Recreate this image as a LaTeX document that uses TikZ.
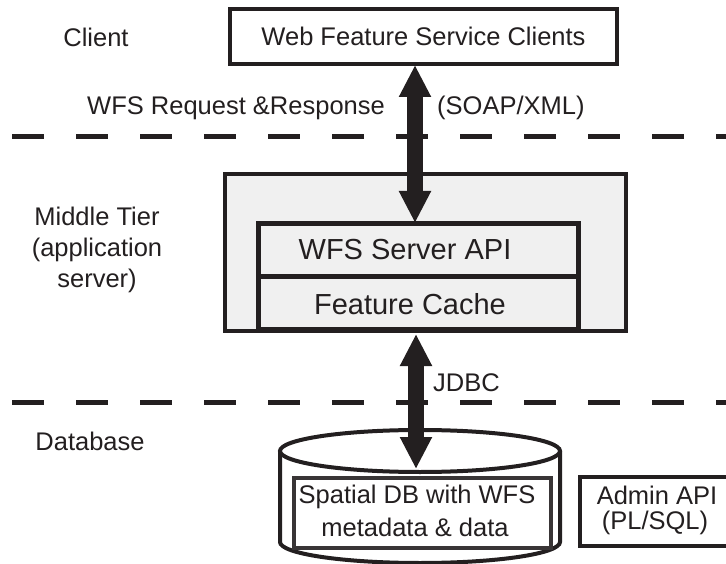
\documentclass[tikz,border=0pt]{standalone}
\usepackage{fontspec}
\setmainfont{Liberation Sans}
\usetikzlibrary{arrows.meta}
\definecolor{ink}{HTML}{231F20}
\definecolor{panel}{HTML}{F0F0F0}
\begin{document}
\begin{tikzpicture}[x=1pt,y=-1pt,
  lbl/.style={font=\fontsize{25.5}{31}\selectfont, text=ink, inner sep=0pt},
  apitext/.style={font=\fontsize{29}{34}\selectfont, text=ink, inner sep=0pt},
  frame/.style={draw=ink, line width=4pt},
  divider/.style={draw=ink, line width=5pt, dash pattern=on 32pt off 32pt},
  bigarrow/.style={draw=ink, fill=ink, line width=16pt,
    {Triangle[width=30pt,length=32pt]}-{Triangle[width=30pt,length=32pt]}}
]
\useasboundingbox (0,0) rectangle (726,564);

% Client box
\node[frame, fill=white, minimum width=387pt, minimum height=55pt, inner sep=0pt,
      lbl] (clients) at (423.5,36.5) {Web Feature Service Clients};

% dividers
\coordinate (d1a) at (12,137);  \coordinate (d1b) at (730,137);
\coordinate (d2a) at (12,402);  \coordinate (d2b) at (730,402);
\draw[divider] (d1a) -- (d1b);
\draw[divider] (d2a) -- (d2b);

% middle tier
\node[frame, fill=panel, minimum width=401pt, minimum height=157pt, inner sep=0pt] (mid) at (425.5,252.5) {};
\node[draw=ink, line width=5pt, fill=panel, minimum width=320pt, minimum height=53pt, inner sep=0pt] (apibox) at (418,250.5) {};
\node[draw=ink, line width=5pt, fill=panel, minimum width=320pt, minimum height=52pt, inner sep=0pt] (cachebox) at (418,303) {};
\node[apitext] (apitxt) at (405,250) {WFS Server API};
\node[apitext] (cachetxt) at (410,304) {Feature Cache};

% database cylinder
\draw[frame, fill=white] (280,451) -- (280,542) arc[start angle=180, end angle=0, x radius=140, y radius=21] -- (560,451);
\draw[frame, fill=white] (420,451) ellipse[x radius=140, y radius=21];
\node[draw=ink!90!white, line width=4pt, fill=white, minimum width=257pt, minimum height=70pt, inner sep=0pt] (dbbox) at (422.5,513) {};
\node[lbl] (db1) at (417,497) {Spatial DB with WFS};
\node[lbl] (db2) at (415,527) {metadata \& data};

% admin box
\node[frame, fill=white, minimum width=152pt, minimum height=69pt, inner sep=0pt] (admin) at (656,511.5) {};
\node[lbl] (adm1) at (657,495) {Admin API};
\node[lbl] (adm2) at (655,523) {(PL/SQL)};

% arrows
\coordinate (a1t) at (415,65);
\coordinate (a1b) at (415,223);
\coordinate (a2t) at (416,334);
\coordinate (a2b) at (416,469);
\draw[bigarrow] (a1t) -- (a1b);
\draw[bigarrow] (a2t) -- (a2b);

% labels
\node[lbl] (client) at (96,37) {Client};
\node[lbl, anchor=west] (wfsreq) at (87,108) {WFS Request \&Response};
\node[lbl, anchor=west] (soap) at (437,108) {(SOAP/XML)};
\node[lbl, align=center] (midlbl) at (97,250) {Middle Tier\\(application\\server)};
\node[lbl] (dblbl) at (90,441) {Database};
\node[lbl, anchor=west] (jdbc) at (433,383) {JDBC};
\end{tikzpicture}
\end{document}
